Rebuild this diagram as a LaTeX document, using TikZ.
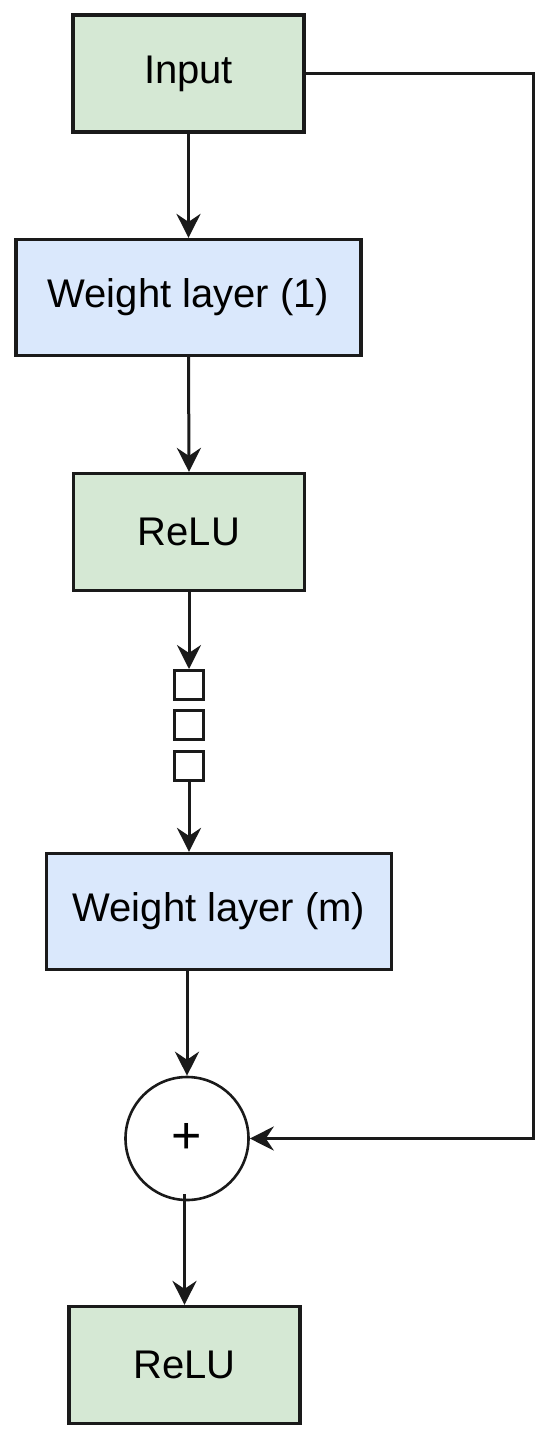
\documentclass[tikz,border=0pt]{standalone}
\usepackage{fontspec}
\setmainfont{Liberation Sans}
\usetikzlibrary{arrows.meta}
\definecolor{gfill}{HTML}{D5E8D4}
\definecolor{bfill}{HTML}{DAE8FC}
\definecolor{edge}{HTML}{1A1A1A}
\tikzset{
  box/.style={draw=edge, line width=1.6pt, rectangle, inner sep=0pt, font=\fontsize{20}{24}\selectfont, text=black},
  gbox/.style={box, fill=gfill, minimum width=115.5pt, minimum height=58.5pt},
  bbox/.style={box, fill=bfill, minimum width=172.5pt, minimum height=58pt},
  sq/.style={draw=edge, line width=1.5pt, fill=white, rectangle, minimum size=14.5pt, inner sep=0pt},
  sumc/.style={draw=edge, line width=1.3pt, circle, fill=white, minimum size=61.5pt, inner sep=0pt, font=\fontsize{26}{30}\selectfont},
  arr/.style={draw=edge, line width=1.5pt, -{Stealth[length=12pt, width=12pt, inset=4pt]}},
  ln/.style={draw=edge, line width=1.5pt}
}
\begin{document}
\begin{tikzpicture}[x=0.5pt, y=-0.5pt]
\useasboundingbox (0,0) rectangle (550,1440);
\node[gbox] (inp) at (188.5,73.5) {Input};
\node[bbox] (w1) at (188.5,297.5) {Weight layer (1)};
\node[gbox] (r1) at (189,532) {ReLU};
\node[sq] (s1) at (189,685) {};
\node[sq] (s2) at (189,725) {};
\node[sq] (s3) at (189,766) {};
\node[bbox] (wm) at (219,911.5) {Weight layer (m)};
\node[sumc] (c) at (187,1138.5) {+};
\node[gbox] (r2) at (184.5,1365) {ReLU};
\coordinate (k) at (533,73.5);
\draw[arr] (inp.south) -- (w1.north);
\draw[arr] (w1.south) -- (r1.north);
\draw[arr] (r1.south) -- (s1.north);
\draw[arr] (s3.south) -- (s3.south |- wm.north);
\draw[arr] (wm.south -| c.north) -- (c.north);
\draw[arr] ([yshift=3.5pt]c.south -| r2.north) -- (r2.north);
\draw[arr] (inp.east) -- (k) |- (c.east);
\end{tikzpicture}
\end{document}
